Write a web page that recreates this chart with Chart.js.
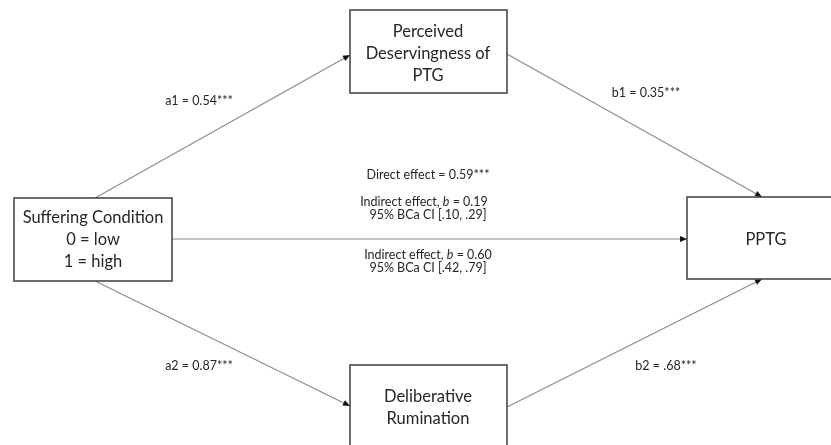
<!DOCTYPE html>
<html>
<head>
<meta charset="utf-8">
<script src="https://cdn.jsdelivr.net/npm/chart.js@4.4.0/dist/chart.umd.min.js"></script>
<style>
  html, body { margin: 0; padding: 0; background: #fff; }
  #wrap { width: 831px; height: 445px; }
</style>
</head>
<body>
<div id="wrap"><canvas id="diagram"></canvas></div>
<script>
// Nodes of the mediation model
const nodeLabels = [
  ['Suffering Condition', '0 = low', '1 = high'],
  ['Perceived', 'Deservingness of', 'PTG'],
  ['Deliberative', 'Rumination'],
  ['PPTG']
];
const nodeLeft   = [14, 350, 350, 687];
const nodeTop    = [198, 10, 365, 197];
const nodeRight  = [172, 507, 507, 840];
const nodeBottom = [281, 93, 460, 279];
const nodeTextY  = [218, 32, 397, 240];
const nodeTextX  = [93, 428, 428, 766];

// Paths (start -> end, arrow at end)
const pathFromX = [95, 507, 172, 95, 507];
const pathFromY = [198, 54, 239, 281, 407];
const pathToX   = [350, 762, 687, 350, 762];
const pathToY   = [55, 197, 239, 406, 279];

// Coefficient labels
const coefLabels = ['a1 = 0.54***', 'b1 = 0.35***', 'a2 = 0.87***', 'b2 = .68***'];
const coefX = [199, 646, 199, 666];
const coefY = [101, 93, 366, 366];

// Effects in the middle (_b_ = italic)
const effectLabels = [
  'Direct effect = 0.59***',
  'Indirect effect, _b_ = 0.19',
  '95% BCa CI [.10, .29]',
  'Indirect effect, _b_ = 0.60',
  '95% BCa CI [.42, .79]'
];
const effectX = [428, 424, 428, 428, 428];
const effectY = [175, 202, 215, 255, 268];

const FONT = 'Lato, "Open Sans", sans-serif';
const TEXT = '#262626';

// draws text with _italic_ parts, centred on x
function richText(ctx, str, x, y, size) {
  const parts = str.split('_');
  let total = 0;
  const widths = parts.map((p, i) => {
    ctx.font = (i % 2 ? 'italic ' : '') + size + 'px ' + FONT;
    const w = ctx.measureText(p).width;
    total += w;
    return w;
  });
  let cx = x - total / 2;
  ctx.textAlign = 'left';
  parts.forEach((p, i) => {
    ctx.font = (i % 2 ? 'italic ' : '') + size + 'px ' + FONT;
    ctx.fillText(p, cx, y);
    cx += widths[i];
  });
}

const diagramPlugin = {
  id: 'diagram',
  afterDatasetsDraw(chart) {
    const ctx = chart.ctx;
    const sx = chart.scales.x, sy = chart.scales.y;
    const px = v => sx.getPixelForValue(v);
    const py = v => sy.getPixelForValue(v);
    ctx.save();

    // arrow heads
    ctx.fillStyle = '#111';
    for (let i = 0; i < pathToX.length; i++) {
      const x1 = px(pathFromX[i]), y1 = py(pathFromY[i]);
      const x2 = px(pathToX[i]), y2 = py(pathToY[i]);
      const ang = Math.atan2(y2 - y1, x2 - x1);
      const len = 7, half = 3;
      ctx.beginPath();
      ctx.moveTo(x2, y2);
      ctx.lineTo(x2 - len * Math.cos(ang) + half * Math.sin(ang), y2 - len * Math.sin(ang) - half * Math.cos(ang));
      ctx.lineTo(x2 - len * Math.cos(ang) - half * Math.sin(ang), y2 - len * Math.sin(ang) + half * Math.cos(ang));
      ctx.closePath();
      ctx.fill();
    }

    // boxes
    ctx.strokeStyle = '#4a4a4a';
    ctx.lineWidth = 1.6;
    for (let i = 0; i < nodeLabels.length; i++) {
      const l = px(nodeLeft[i]), t = py(nodeTop[i]);
      const w = px(nodeRight[i]) - l, h = py(nodeBottom[i]) - t;
      ctx.fillStyle = '#fff';
      ctx.fillRect(l, t, w, h);
      ctx.strokeRect(l, t, w, h);
      ctx.fillStyle = TEXT;
      ctx.font = '16.5px ' + FONT;
      ctx.textAlign = 'center';
      ctx.textBaseline = 'middle';
      nodeLabels[i].forEach((line, k) => {
        ctx.fillText(line, px(nodeTextX[i]), py(nodeTextY[i]) + k * 22);
      });
    }

    // labels
    ctx.fillStyle = TEXT;
    ctx.textBaseline = 'middle';
    coefLabels.forEach((s, i) => richText(ctx, s, px(coefX[i]), py(coefY[i]), 12.5));
    effectLabels.forEach((s, i) => richText(ctx, s, px(effectX[i]), py(effectY[i]), 12.5));
    ctx.restore();
  }
};

const datasets = pathFromX.map((x, i) => ({
  data: [{ x: x, y: pathFromY[i] }, { x: pathToX[i], y: pathToY[i] }],
  showLine: true,
  borderColor: '#8a8a8a',
  borderWidth: 1.1,
  pointRadius: 0,
  fill: false
}));

new Chart(document.getElementById('diagram'), {
  type: 'scatter',
  data: { datasets: datasets },
  options: {
    responsive: true,
    maintainAspectRatio: false,
    animation: false,
    layout: { padding: 0 },
    plugins: { legend: { display: false }, tooltip: { enabled: false } },
    scales: {
      x: { type: 'linear', min: 0, max: 831, display: false },
      y: { type: 'linear', min: 0, max: 445, reverse: true, display: false }
    }
  },
  plugins: [diagramPlugin]
});
</script>
</body>
</html>
